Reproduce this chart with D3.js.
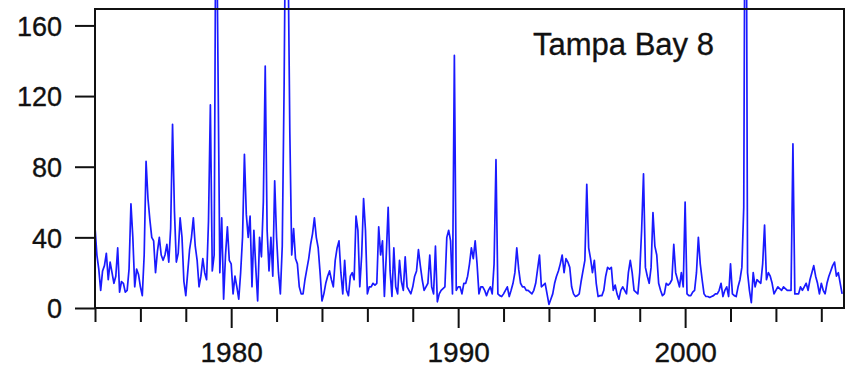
<!DOCTYPE html>
<html>
<head>
<meta charset="utf-8">
<script src="https://cdn.jsdelivr.net/npm/d3@7"></script>
<style>
    body { margin: 0; background: #fff; }
    svg text { font-family: "Liberation Sans", Arial, sans-serif; fill: #111; stroke: #111; stroke-width: 0.35px; }
</style>
</head>
<body>
<div id="chart"></div>
<script>
// monthly series, Jan 1974 .. Dec 2006
const startYear = 1974;
const values = [
    46, 30, 22, 10, 21, 24, 31, 16, 26, 20, 14, 18,     // 1974
    34, 9, 15, 14, 9, 10, 22, 59, 40, 12, 22, 19,       // 1975
    12, 7, 30, 83, 62, 50, 40, 38, 20, 32, 40, 30,      // 1976
    27, 30, 36, 26, 45, 104, 55, 26, 31, 51, 40, 15,    // 1977
    7, 20, 33, 40, 51, 35, 27, 12, 18, 28, 20, 16,      // 1978
    49, 115, 21, 30, 260, 140, 20, 51, 5, 30, 46, 27,   // 1979
    25, 8, 18, 12, 5, 20, 40, 87, 53, 40, 52, 12,       // 1980
    44, 23, 4, 40, 29, 60, 137, 44, 21, 40, 18, 72,     // 1981
    40, 20, 8, 35, 127, 260, 210, 100, 30, 45, 28, 25,  // 1982
    12, 8, 8, 16, 22, 28, 36, 42, 51, 40, 34, 20,       // 1983
    4, 8, 14, 18, 21, 16, 12, 27, 34, 38, 20, 8,        // 1984
    27, 10, 7, 18, 20, 16, 52, 44, 12, 30, 62, 44,      // 1985
    8, 12, 12, 14, 13, 14, 46, 30, 38, 6.5, 30, 57,     // 1986
    21, 6.5, 34, 12, 8, 27, 15, 10, 29, 12, 10, 8,      // 1987
    12, 18, 21, 33, 24, 16, 10, 12, 14, 30, 12, 8,      // 1988
    35, 3.5, 8, 10, 11, 12, 40, 44, 38, 8, 143, 10,     // 1989
    12, 12, 8, 14, 14, 18, 25, 34, 28, 38, 25, 8,       // 1990
    12, 12, 10, 7, 10, 12, 8, 25, 84, 8, 7, 6.5,        // 1991
    8, 10, 12, 6.5, 10, 14, 20, 34, 22, 14, 12, 12,     // 1992
    10, 10, 9, 8, 10, 14, 22, 30, 12, 13, 14, 8,        // 1993
    2, 5, 8, 14, 18, 21, 25, 30, 20, 28, 26, 23,        // 1994
    12, 8, 6.5, 7, 8, 15, 21, 27, 70, 34, 28, 20,       // 1995
    27, 14, 6.5, 7, 7, 10, 18, 23, 22, 23, 10, 13,      // 1996
    8, 5, 10, 12, 10, 8, 20, 27, 20, 10, 9, 8,          // 1997
    20, 44, 76, 23, 18, 14, 23, 54, 35, 30, 14, 10,     // 1998
    7, 8, 14, 13, 14, 16, 36, 20, 16, 12, 20, 12,       // 1999
    60, 8, 7, 7, 9, 10, 20, 40, 25, 16, 8, 6.5,         // 2000
    6.5, 6, 6.5, 7, 8, 8, 10, 14, 6.5, 10, 12, 6.5,     // 2001
    25, 8, 7, 6.5, 12, 16, 23, 57, 350, 20, 10, 3,      // 2002
    20, 12, 16, 15, 14, 25, 47, 16, 20, 18, 14, 8,      // 2003
    10, 12, 11, 10, 12, 11, 10, 10, 10, 93, 8, 8,       // 2004
    8, 12, 10, 12, 14, 10, 16, 20, 24, 18, 14, 8,       // 2005
    14, 10, 8, 14, 18, 21, 24, 26, 18, 20, 14, 8        // 2006
];
const yTicks = [0, 40, 80, 120, 160];
const xTickYears = d3.range(1974, 2007, 2);
const xLabelYears = [1980, 1990, 2000];
const title = "Tampa Bay 8";

const width = 849, height = 368;
const plot = {left: 95, right: 844, top: 9, bottom: 308};

const svg = d3.select("#chart").append("svg")
    .attr("width", width)
    .attr("height", height);

const x = d3.scaleLinear()
    .domain([1974, 2007])
    .range([plot.left, plot.right]);

const y = d3.scaleLinear()
    .domain([0, 169.3])
    .range([plot.bottom, plot.top]);

const series = values.map((v, i) => ({t: startYear + i / 12, v: v}));

// y axis
const yAxis = svg.append("g")
    .attr("transform", `translate(${plot.left},0)`)
    .call(d3.axisLeft(y).tickValues(yTicks).tickSize(20).tickPadding(13));
yAxis.select(".domain").remove();
yAxis.selectAll(".tick line").attr("stroke", "#111").attr("stroke-width", 2);
yAxis.selectAll(".tick text").style("font-size", "27px").attr("dy", "0.36em");

// x axis
const xAxis = svg.append("g")
    .attr("transform", `translate(0,${plot.bottom})`)
    .call(d3.axisBottom(x).tickValues(xTickYears).tickSize(14)
        .tickFormat(d => xLabelYears.includes(d) ? d : ""));
xAxis.select(".domain").remove();
xAxis.selectAll(".tick line")
    .attr("stroke", "#111").attr("stroke-width", 2)
    .attr("y2", d => xLabelYears.includes(d) ? 20 : 14);
xAxis.selectAll(".tick text")
    .style("font-size", "28px")
    .attr("y", 34)
    .attr("dy", "0.71em");

// the series, not clipped at the top (spikes run off the frame)
const line = d3.line()
    .x(d => x(d.t))
    .y(d => y(d.v));

svg.append("path")
    .datum(series)
    .attr("fill", "none")
    .attr("stroke", "#1a1aff")
    .attr("stroke-width", 1.7)
    .attr("stroke-linejoin", "round")
    .attr("d", line);

// frame
svg.append("rect")
    .attr("x", plot.left)
    .attr("y", plot.top)
    .attr("width", plot.right - plot.left)
    .attr("height", plot.bottom - plot.top)
    .attr("fill", "none")
    .attr("stroke", "#111")
    .attr("stroke-width", 2);

svg.append("text")
    .attr("x", 533)
    .attr("y", 55)
    .style("font-size", "31px")
    .text(title);
</script>
</body>
</html>
